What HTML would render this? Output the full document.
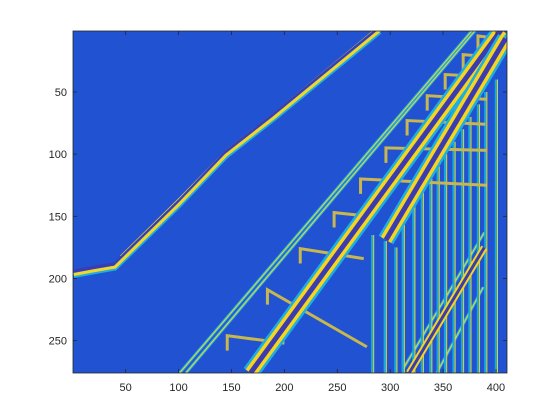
<!DOCTYPE html>
<html><head><meta charset="utf-8"><style>
body{margin:0;background:#fff;}
svg{display:block;font-family:"Liberation Sans",sans-serif;}
</style></head><body>
<svg id="chart" width="560" height="420" viewBox="0 0 560 420" xmlns="http://www.w3.org/2000/svg">
<defs><clipPath id="clip"><rect x="73" y="31" width="434" height="342"/></clipPath></defs>
<rect x="0" y="0" width="560" height="420" fill="#fff"/>
<g id="plot" clip-path="url(#clip)"></g>
<g id="axes"></g>
</svg>
<script>
// data coordinates (column, row) of detected edges
const xTicks = [50,100,150,200,250,300,350,400];
const yTicks = [50,100,150,200,250];
const xLim = [0.5, 410.5];
const yLim = [0.5, 276];
// thin cyan/yellow outlines
const thinLines = [
  [[101,276],[378,0]],
  [[107,276],[381,0]],
  [[344,276],[388,207]],
  [[312,273],[389,163]]
];
// upper handrail
const upperRail = [[1,196],[20,193],[40,190],[100,140],[145,100],[190,70],[290,0]];
const upperRail2 = [[45,182],[100,136],[145,97],[190,67],[285,0]];
// thick bands
const bands = [
  [[168,276],[405,0]],
  [[296,169],[409,7]]
];
const thinBands = [
  [[318,276],[389,175]]
];
// step corners (left-top of each rung) and rung right ends
const rungStart = [[146,246],[184,209],[215,176],[247,147],[272,120],[296,95],[316,73],[335,53],[352,36],[369,20],[383,5]];
const rungEnd   = [[200,252],[278,255],[275,184],[280,150],[391,125],[392,97],[390,76],[392,56],[395,38],[398,22],[402,7]];
// vertical posts: x, top row
const postX   = [283,295,305,312,322,330,338,345,352,360,368,375,383,390,400];
const postTop = [165,170,175,150,140,130,120,110,100,90,80,70,60,50,40];

const W0=73.3, H0=30.4, sx=1.058, sy=1.2435;
const X = v => W0 + (v - 0.5) * sx;
const Y = v => H0 + (v - 0.5) * sy;
const NS = "http://www.w3.org/2000/svg";
const plot = document.getElementById('plot');
const axes = document.getElementById('axes');
function mk(tag, attrs, parent){ const e=document.createElementNS(NS,tag); for(const k in attrs) e.setAttribute(k,attrs[k]); parent.appendChild(e); return e; }
function pts(arr, dx=0, dy=0){ return arr.map(p => (X(p[0])+dx)+','+(Y(p[1])+dy)).join(' '); }

const bg = mk('rect',{x:73,y:31,width:434,height:342,fill:'#2152d2'},plot);



thinLines.forEach((l,i)=>{
  const c = mk('polyline',{points:pts(l),fill:'none',stroke:'#1eaee0','stroke-width':3},plot);
  
  
  const y = mk('polyline',{points:pts(l),fill:'none',stroke:'#f5d52a','stroke-width':1},plot);
  
  
});

postX.forEach((x,i)=>{
  const p = mk('line',{x1:X(x),y1:Y(postTop[i]),x2:X(x),y2:Y(276),stroke:'#19a8d8','stroke-width':2.5},plot);
  
  
  const q = mk('line',{x1:X(x)+1.5,y1:Y(postTop[i]),x2:X(x)+1.5,y2:Y(276),stroke:'#e9d030','stroke-width':1},plot);
  
  
});

rungStart.forEach((s,i)=>{
  const e = rungEnd[i];
  const r = mk('polyline',{points:pts([[s[0],s[1]+12],s,e]),fill:'none',stroke:'#c8b64e','stroke-width':3},plot);
  
  
});

bands.forEach((b,i)=>{
  const o = mk('polyline',{points:pts(b),fill:'none',stroke:'#1eaee0','stroke-width':17},plot);
  
  
  const y = mk('polyline',{points:pts(b),fill:'none',stroke:'#f7d51e','stroke-width':12},plot);
  
  
  const d = mk('polyline',{points:pts(b),fill:'none',stroke:'#3b3cb0','stroke-width':5},plot);
  
  
});
thinBands.forEach((b,i)=>{
  const y = mk('polyline',{points:pts(b),fill:'none',stroke:'#f7d51e','stroke-width':7},plot);
  
  
  const d = mk('polyline',{points:pts(b),fill:'none',stroke:'#3b3cb0','stroke-width':3},plot);
  
  
});

const r2 = mk('polyline',{points:pts(upperRail2),fill:'none',stroke:'#f5d52a','stroke-width':1},plot);


const rd = mk('polyline',{points:pts(upperRail,0,-2.5),fill:'none',stroke:'#3b3cb0','stroke-width':3},plot);


const rc = mk('polyline',{points:pts(upperRail,0,2),fill:'none',stroke:'#1eaee0','stroke-width':5},plot);


const ry = mk('polyline',{points:pts(upperRail,0,1),fill:'none',stroke:'#f5d52a','stroke-width':3},plot);



// axes frame
const frame = mk('rect',{x:73,y:31,width:434,height:342,fill:'none',stroke:'#262626','stroke-width':0.8},axes);


xTicks.forEach(t=>{
  const x=X(t);
  const a = mk('line',{x1:x,y1:373,x2:x,y2:369,stroke:'#262626','stroke-width':0.8},axes);
  
  
  const b = mk('line',{x1:x,y1:31,x2:x,y2:35,stroke:'#262626','stroke-width':0.8},axes);
  
  
  const tx = mk('text',{x:x,y:391,'text-anchor':'middle','font-size':11,fill:'#262626'},axes);
  tx.textContent=t;
  
  
});
yTicks.forEach(t=>{
  const y=Y(t);
  const a = mk('line',{x1:73,y1:y,x2:77,y2:y,stroke:'#262626','stroke-width':0.8},axes);
  
  
  const b = mk('line',{x1:507,y1:y,x2:503,y2:y,stroke:'#262626','stroke-width':0.8},axes);
  
  
  const tx = mk('text',{x:67,y:y+4,'text-anchor':'end','font-size':11,fill:'#262626'},axes);
  tx.textContent=t;
  
  
});
</script>
</body></html>
